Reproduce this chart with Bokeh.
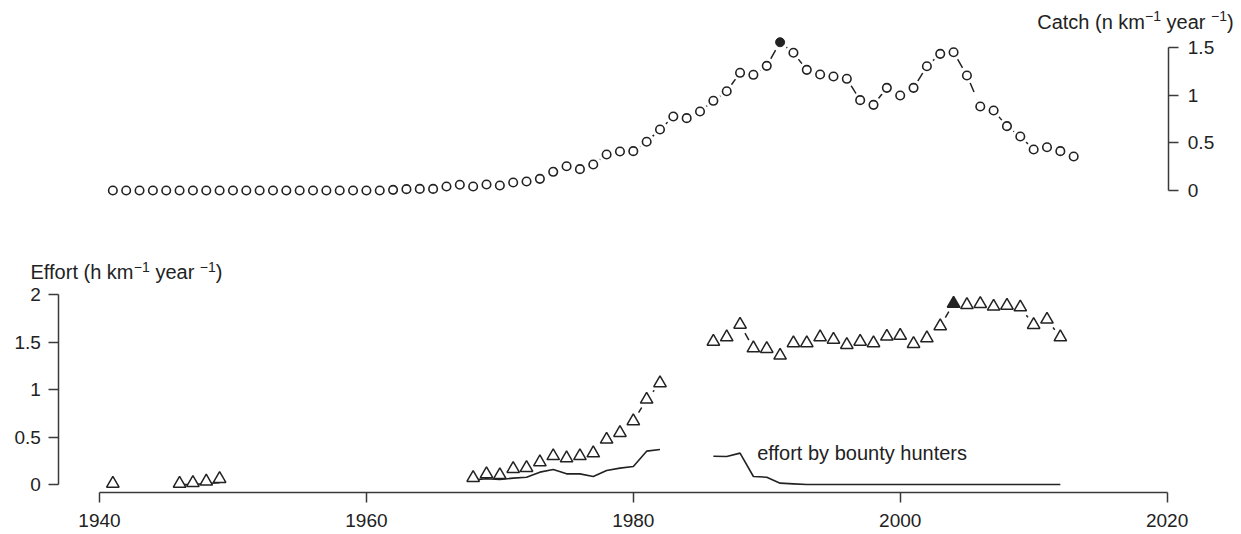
from bokeh.plotting import figure
from bokeh.models import Range1d, LinearAxis, FixedTicker, Label
from bokeh.embed import file_html
from bokeh.resources import INLINE

# ---------------- data ----------------
catch_years = [1941, 1942, 1943, 1944, 1945, 1946, 1947, 1948, 1949, 1950,
               1951, 1952, 1953, 1954, 1955, 1956, 1957, 1958, 1959, 1960,
               1961, 1962, 1963, 1964, 1965, 1966, 1967, 1968, 1969, 1970,
               1971, 1972, 1973, 1974, 1975, 1976, 1977, 1978, 1979, 1980,
               1981, 1982, 1983, 1984, 1985, 1986, 1987, 1988, 1989, 1990,
               1991, 1992, 1993, 1994, 1995, 1996, 1997, 1998, 1999, 2000,
               2001, 2002, 2003, 2004, 2005, 2006, 2007, 2008, 2009, 2010,
               2011, 2012, 2013]
catch = [0.0, 0.0, 0.0, 0.0, 0.0, 0.0, 0.0, 0.0, 0.0, 0.0,
         0.0, 0.0, 0.0, 0.0, 0.0, 0.0, 0.0, 0.0, 0.0, 0.0,
         0.0, 0.007, 0.014, 0.017, 0.017, 0.042, 0.06, 0.042, 0.063, 0.052,
         0.084, 0.094, 0.122, 0.196, 0.255, 0.224, 0.273, 0.378, 0.409, 0.413,
         0.511, 0.64, 0.776, 0.759, 0.829, 0.941, 1.042, 1.235, 1.214, 1.308,
         1.556, 1.445, 1.266, 1.217, 1.196, 1.172, 0.948, 0.899, 1.077, 0.997,
         1.077, 1.304, 1.434, 1.451, 1.207, 0.881, 0.839, 0.675, 0.567, 0.430,
         0.454, 0.413, 0.357]

effort_years = [1941, 1946, 1947, 1948, 1949,
                1968, 1969, 1970, 1971, 1972, 1973, 1974, 1975, 1976, 1977,
                1978, 1979, 1980, 1981, 1982,
                1986, 1987, 1988, 1989, 1990, 1991, 1992, 1993, 1994, 1995,
                1996, 1997, 1998, 1999, 2000, 2001, 2002, 2003, 2004, 2005,
                2006, 2007, 2008, 2009, 2010, 2011, 2012]
effort = [0.01, 0.01, 0.018, 0.032, 0.06,
          0.07, 0.11, 0.10, 0.165, 0.175, 0.235, 0.30, 0.277, 0.30, 0.33,
          0.474, 0.544, 0.667, 0.895, 1.067,
          1.505, 1.551, 1.684, 1.435, 1.428, 1.358, 1.488, 1.488, 1.551, 1.526,
          1.47, 1.505, 1.488, 1.558, 1.568, 1.481, 1.54, 1.667, 1.905, 1.89,
          1.902, 1.874, 1.884, 1.866, 1.681, 1.737, 1.551]
bounty = [0.0, 0.0, 0.0, 0.01, 0.02,
          0.049, 0.06, 0.053, 0.067, 0.077, 0.13, 0.158, 0.112, 0.112, 0.084,
          0.147, 0.172, 0.189, 0.351, 0.368,
          0.298, 0.295, 0.33, 0.084, 0.077, 0.014, 0.007, 0.0, 0.0, 0.0,
          0.0, 0.0, 0.0, 0.0, 0.0, 0.0, 0.0, 0.0, 0.0, 0.0,
          0.0, 0.0, 0.0, 0.0, 0.0, 0.0, 0.0]

x_ticks = [1940, 1960, 1980, 2000, 2020]
effort_ticks = [0, 0.5, 1, 1.5, 2]
catch_ticks = [0, 0.5, 1, 1.5]

# axis titles: (text, is_superscript) pieces
catch_title = [("Catch (n km", False), ("\u22121", True), (" year ", False),
               ("\u22121", True), (")", False)]
effort_title = [("Effort (h km", False), ("\u22121", True), (" year ", False),
                ("\u22121", True), (")", False)]
bounty_label = "effort by bounty hunters"

# ---------------- styling ----------------
INK = "#222222"
AXIS = "#3a3a3a"
FONT = "Liberation Sans"
TICK_FS = "19px"
TEXT_PX = 20
SUP_PX = 14

# Pixel <-> data helpers (frame fills the whole canvas)
X0, XPX = 1940.0, 99.0          # year 1940 sits at pixel x = 99
PX_PER_YEAR = 13.345
E0_PX, PX_PER_EFFORT = 484.0, 95.0
W, H = 1241, 534


def px_to_year(px):
    return X0 + (px - XPX) / PX_PER_YEAR


def py_to_effort(py):
    return (E0_PX - py) / PX_PER_EFFORT


p = figure(width=W, height=H, output_backend="svg", toolbar_location=None,
           x_range=Range1d(px_to_year(0), px_to_year(W)),
           y_range=Range1d(py_to_effort(H), py_to_effort(0)),
           min_border_left=0, min_border_right=0, min_border_top=0,
           min_border_bottom=0, x_axis_location=None, y_axis_location=None)
p.extra_y_ranges = {"catch": Range1d((190 - H) / 95.3, 190 / 95.3)}
p.grid.visible = False
p.outline_line_color = None
p.background_fill_color = "white"
p.border_fill_color = "white"


def fmt(v):
    return str(int(v)) if float(v).is_integer() else str(v)


def style_axis(ax, standoff):
    ax.axis_line_color = AXIS
    ax.axis_line_width = 1.5
    ax.major_tick_line_color = AXIS
    ax.major_tick_line_width = 1.5
    ax.major_tick_in = 0
    ax.major_tick_out = 10
    ax.minor_tick_line_color = None
    ax.major_label_text_font = FONT
    ax.major_label_text_font_size = TICK_FS
    ax.major_label_text_color = INK
    ax.major_label_standoff = standoff


xax = LinearAxis(ticker=FixedTicker(ticks=x_ticks), bounds=(x_ticks[0], x_ticks[-1]),
                 major_label_overrides={t: fmt(t) for t in x_ticks},
                 fixed_location=py_to_effort(491.8))
style_axis(xax, 12)
p.add_layout(xax, "below")

lax = LinearAxis(ticker=FixedTicker(ticks=effort_ticks),
                 bounds=(effort_ticks[0], effort_ticks[-1]),
                 major_label_overrides={t: fmt(t) for t in effort_ticks},
                 fixed_location=px_to_year(58.3))
style_axis(lax, 8)
p.add_layout(lax, "left")

rax = LinearAxis(y_range_name="catch", ticker=FixedTicker(ticks=catch_ticks),
                 bounds=(catch_ticks[0], catch_ticks[-1]),
                 major_label_overrides={t: fmt(t) for t in catch_ticks},
                 fixed_location=px_to_year(1168.3))
style_axis(rax, 9)
p.add_layout(rax, "right")


def consecutive_pairs(xs, ys):
    x0, y0, x1, y1 = [], [], [], []
    for i in range(len(xs) - 1):
        if xs[i + 1] - xs[i] == 1:
            x0.append(xs[i]); y0.append(ys[i]); x1.append(xs[i + 1]); y1.append(ys[i + 1])
    return x0, y0, x1, y1


def with_breaks(xs, ys):
    bx, by = [], []
    for i, (x, y) in enumerate(zip(xs, ys)):
        if i > 0 and x - xs[i - 1] > 1:
            bx.append(float("nan")); by.append(float("nan"))
        bx.append(x); by.append(y)
    return bx, by


# ---------------- catch (top panel, right axis) ----------------
c0x, c0y, c1x, c1y = consecutive_pairs(catch_years, catch)
p.segment(c0x, c0y, c1x, c1y, y_range_name="catch", line_color=INK,
          line_width=1.5, line_dash="10 8", line_dash_offset=10)
p.scatter(catch_years, catch, y_range_name="catch", marker="circle", size=16,
          fill_color="white", line_color=None)
imax = catch.index(max(catch))
open_idx = [i for i in range(len(catch)) if i != imax]
p.scatter([catch_years[i] for i in open_idx], [catch[i] for i in open_idx],
          y_range_name="catch", marker="circle", size=8.5,
          fill_color="white", line_color=INK, line_width=1.6)
p.scatter([catch_years[imax]], [catch[imax]], y_range_name="catch",
          marker="circle", size=9, fill_color=INK, line_color=INK)

# ---------------- effort (bottom panel, left axis) ----------------
e0x, e0y, e1x, e1y = consecutive_pairs(effort_years, effort)
p.segment(e0x, e0y, e1x, e1y, line_color=INK, line_width=1.5,
          line_dash="10 8", line_dash_offset=8)
p.scatter(effort_years, effort, marker="circle", size=19,
          fill_color="white", line_color=None)

bx, by = with_breaks(effort_years, bounty)
p.line(bx, by, line_color=INK, line_width=1.6)

jmax = effort.index(max(effort))
open_j = [i for i in range(len(effort)) if i != jmax]
p.scatter([effort_years[i] for i in open_j], [effort[i] for i in open_j],
          marker="triangle", size=12.5, fill_color="white", line_color=INK,
          line_width=1.5)
p.scatter([effort_years[jmax]], [effort[jmax]], marker="triangle", size=12.5,
          fill_color=INK, line_color=INK, line_width=1.5)

# ---------------- texts ----------------
# Arial / Liberation Sans advance widths (1/1000 em)
ADV = {"C": 722, "a": 556, "t": 278, "c": 500, "h": 556, " ": 278, "(": 333,
       "n": 556, "k": 500, "m": 833, "y": 500, "e": 556, "r": 333, ")": 333,
       "E": 667, "f": 278, "o": 556, "\u2212": 584, "1": 556}
BASELINE_FIX = 0.35   # observed downward shift of 'alphabetic' labels, in em


def text_width(s, size):
    return sum(ADV.get(ch, 556) for ch in s) * size / 1000.0


def rich_title(pieces, left_px, baseline_px, sup_raise):
    x = left_px
    for txt, sup in pieces:
        size = SUP_PX if sup else TEXT_PX
        base = baseline_px - (sup_raise if sup else 0) - BASELINE_FIX * size
        lead = len(txt) - len(txt.lstrip(" "))
        shown = txt.strip(" ")
        p.add_layout(Label(x=px_to_year(x + text_width(" " * lead, size)),
                           y=py_to_effort(base), text=shown,
                           text_align="left", text_baseline="alphabetic",
                           text_font=FONT, text_font_size=f"{size}px",
                           text_color=INK))
        x += text_width(txt, size)


rich_title(catch_title, 1036.7, 28.0, 7.5)
rich_title(effort_title, 30.0, 278.5, 7.0)

p.add_layout(Label(x=px_to_year(756.7), y=py_to_effort(452.7), text=bounty_label,
                   text_align="left", text_baseline="middle", text_font=FONT,
                   text_font_size=f"{TEXT_PX}px", text_color=INK))

open("out.html", "w").write(file_html(p, INLINE))
